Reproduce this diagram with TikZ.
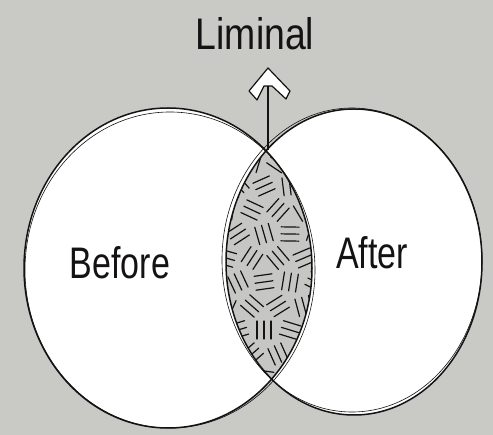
\documentclass[tikz,border=0pt]{standalone}
\usepackage{fontspec}
\setmainfont{Liberation Sans}
\definecolor{bg}{RGB}{201,201,197}
\definecolor{lensgray}{RGB}{198,198,196}
\definecolor{ink}{RGB}{20,18,18}
\tikzset{
  outline/.style={draw=ink, line width=1.5pt},
  sketch/.style={draw=ink, line width=0.6pt},
  hatch/.style={draw=ink, line width=1.2pt, line cap=round},
  label/.style={font=\fontsize{34}{34}\selectfont, text=ink, inner sep=0pt, yscale=1.3},
  headshape/.style={draw=ink, line width=1.2pt, fill=white, line join=round}
}
\begin{document}
\begin{tikzpicture}[x=1pt, y=-1pt]
\useasboundingbox (0,0) rectangle (493,435);
\fill[bg] (0,0) rectangle (493,435);
% white discs
\fill[white] (168,268) ellipse [x radius=144, y radius=160];
\fill[white] (354,262) ellipse [x radius=128, y radius=153];
% lens
\begin{scope}
  \clip (168,268) ellipse [x radius=144, y radius=160];
  \fill[lensgray] (354,262) ellipse [x radius=128, y radius=153];
  \clip (354,262) ellipse [x radius=128, y radius=153];
  \foreach \i in {0,...,3} {
    \foreach \j in {0,...,9} {
      \pgfmathsetmacro\ang{mod(\i*73+\j*131,180)}
      \pgfmathsetmacro\cx{226+26*\i+mod(\j,2)*12}
      \pgfmathsetmacro\cy{162+24*\j}
      \begin{scope}[shift={(\cx,\cy)}, rotate=\ang]
        \foreach \o in {-7,0,7} \draw[hatch] (-9,\o) -- (9,\o);
      \end{scope}
    }
  }
\end{scope}
% outlines
\draw[outline] (168,268) ellipse [x radius=144, y radius=160];
\draw[sketch] (170,270) ellipse [x radius=145, y radius=158];
\draw[outline] (354,262) ellipse [x radius=128, y radius=153];
\draw[sketch] (352,260) ellipse [x radius=130, y radius=152];
% labels
\node[label, xscale=1.1] (liminal) at (255,34) {Liminal};
\node[label] (before) at (120,263) {Before};
\node[label] (after) at (372,253) {After};
% arrow
\coordinate (top) at (268,150);
\coordinate (tip) at (268,68);
\draw[ink, line width=1.3pt] (top) -- ([yshift=-16pt]tip);
\draw[headshape] (tip) -- ++(22,23) -- ++(-4,8) -- ++(-14,-13) -- ++(-8,0) -- ++(-7,14) -- ++(-8,-9) -- cycle;
\end{tikzpicture}
\end{document}
